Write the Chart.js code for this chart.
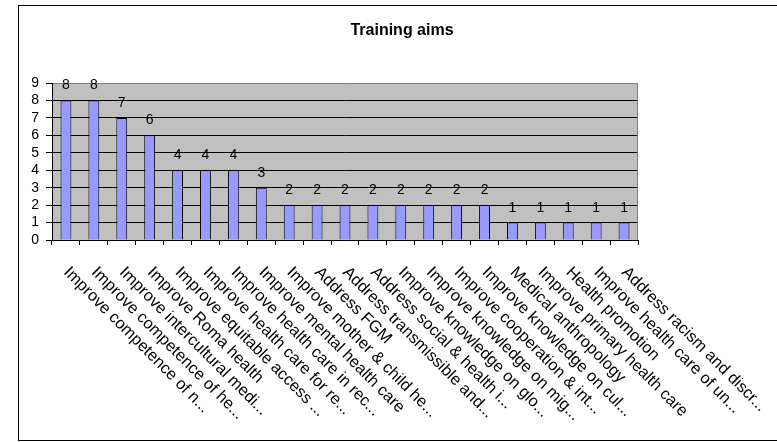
<!DOCTYPE html>
<html>
<head>
<meta charset="utf-8">
<title>Training aims</title>
<script src="https://cdn.jsdelivr.net/npm/chart.js@4"></script>
<style>
  body { margin: 0; background: #fff; }
  #wrap { width: 777px; height: 442px; position: relative; }
</style>
</head>
<body>
<div id="wrap"><canvas id="chart"></canvas></div>
<script>
// chart data
const chartTitle = 'Training aims';
const aims = [
    'Improve competence of n...',
    'Improve competence of he...',
    'Improve intercultural medi...',
    'Improve Roma health',
    'Improve equitable access ...',
    'Improve health care for re...',
    'Improve health care in rec...',
    'Improve mental health care',
    'Improve mother & child he...',
    'Address FGM',
    'Address transmissible and...',
    'Address social & health i...',
    'Improve knowledge on glo...',
    'Improve knowledge on mig...',
    'Improve cooperation & int...',
    'Improve knowledge on cul...',
    'Medical anthropology',
    'Improve primary health care',
    'Health promotion',
    'Improve health care of un...',
    'Address racism and discr...'
];
const counts = [8, 8, 7, 6, 4, 4, 4, 3, 2, 2, 2, 2, 2, 2, 2, 2, 1, 1, 1, 1, 1];
const yTicks = [0, 1, 2, 3, 4, 5, 6, 7, 8, 9];

const FONT = '"Liberation Sans", Arial, sans-serif';

// white frame, grey plot area, title
const backdrop = {
    id: 'backdrop',
    beforeDraw(chart) {
        const ctx = chart.ctx;
        const a = chart.chartArea;
        ctx.save();
        ctx.fillStyle = '#fff';
        ctx.fillRect(0, 0, chart.width, chart.height);
        ctx.strokeStyle = '#000';
        ctx.lineWidth = 1;
        ctx.strokeRect(18.5, 5.5, 800, 435);
        ctx.fillStyle = '#c0c0c0';
        ctx.fillRect(a.left, a.top, a.right - a.left, a.bottom - a.top);
        ctx.fillStyle = '#000';
        ctx.font = 'bold 16px ' + FONT;
        ctx.textAlign = 'center';
        ctx.textBaseline = 'middle';
        ctx.fillText(chartTitle, 402, 31);
        ctx.restore();
    },
    afterDraw(chart) {
        // plot border on the right
        const ctx = chart.ctx;
        const a = chart.chartArea;
        ctx.save();
        ctx.strokeStyle = '#808080';
        ctx.lineWidth = 1;
        ctx.beginPath();
        ctx.moveTo(Math.round(a.right) - 0.5, a.top);
        ctx.lineTo(Math.round(a.right) - 0.5, a.bottom);
        ctx.stroke();
        ctx.restore();
    }
};

// value labels over the bars and slanted category labels
const labels = {
    id: 'labels',
    afterDatasetsDraw(chart) {
        const ctx = chart.ctx;
        const meta = chart.getDatasetMeta(0);
        ctx.save();
        ctx.fillStyle = '#000';
        ctx.font = '14px ' + FONT;
        ctx.textAlign = 'center';
        ctx.textBaseline = 'alphabetic';
        meta.data.forEach(function(bar, i) {
            ctx.fillText(String(counts[i]), bar.x, bar.y - 11);
        });

        const xs = chart.scales.x;
        ctx.font = '16.4px ' + FONT;
        ctx.textAlign = 'left';
        aims.forEach(function(name, i) {
            ctx.save();
            ctx.translate(xs.getPixelForValue(i) - 3, xs.top + 33);
            ctx.rotate(Math.PI / 4);
            ctx.fillText(name, 0, 0);
            ctx.restore();
        });
        ctx.restore();
    }
};

new Chart(document.getElementById('chart'), {
    type: 'bar',
    data: {
        labels: aims,
        datasets: [{
            data: counts,
            backgroundColor: '#9999ff',
            borderColor: '#000',
            borderWidth: 1,
            barPercentage: 0.39,
            categoryPercentage: 1
        }]
    },
    options: {
        responsive: true,
        maintainAspectRatio: false,
        animation: false,
        layout: { padding: { top: 83, right: 139, bottom: 0, left: 0 } },
        plugins: {
            legend: { display: false },
            tooltip: { enabled: false }
        },
        scales: {
            x: {
                grid: {
                    offset: true,
                    drawOnChartArea: false,
                    drawTicks: true,
                    tickLength: 5,
                    color: '#000'
                },
                border: { color: '#000' },
                ticks: { display: false },
                afterFit: function(scale) { scale.height = 202; }
            },
            y: {
                min: 0,
                max: 9,
                afterBuildTicks: function(scale) {
                    scale.ticks = yTicks.map(function(v) { return { value: v }; });
                },
                grid: {
                    color: function(c) { return c.tick && c.tick.value === 9 ? '#808080' : '#000'; },
                    tickColor: '#000',
                    tickLength: 6
                },
                border: { color: '#000' },
                ticks: {
                    autoSkip: false,
                    padding: 7,
                    color: '#000',
                    font: { family: FONT, size: 14, lineHeight: 1 }
                },
                afterFit: function(scale) { scale.width = 52; }
            }
        }
    },
    plugins: [backdrop, labels]
});
</script>
</body>
</html>
